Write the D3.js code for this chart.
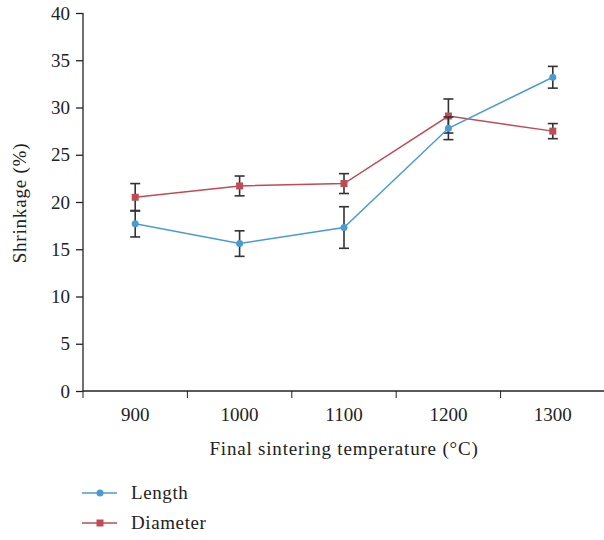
<!DOCTYPE html>
<html>
<head>
<script src="https://d3js.org/d3.v7.min.js"></script>
<style>
  body { margin: 0; background: #fff; }
  text { font-family: "Liberation Serif", "DejaVu Serif", serif; fill: #222; }
</style>
</head>
<body>
<script>
// temperatures and shrinkage values
var temps = ["900", "1000", "1100", "1200", "1300"];
var lengthVals = [17.7, 15.6, 17.3, 27.8, 33.2];
var lengthErr  = [1.4, 1.35, 2.2, 1.2, 1.15];
var diamVals   = [20.5, 21.7, 21.95, 29.1, 27.5];
var diamErr    = [1.45, 1.05, 1.05, 1.8, 0.8];
var yTicks = [0, 5, 10, 15, 20, 25, 30, 35, 40];

var blue = "#4a9bd4", red = "#bf4b55";

var svg = d3.select("body").append("svg")
    .attr("width", 604)
    .attr("height", 540);

var x = d3.scaleBand().domain(temps).range([83, 605]);
var y = d3.scaleLinear().domain([0, 40]).range([391, 13]);

// y axis
var yAxis = svg.append("g")
    .attr("transform", "translate(83,0)")
    .call(d3.axisLeft(y).tickValues(yTicks).tickSize(7).tickPadding(6));
yAxis.select(".domain").attr("d", "M0,13V391");

// x axis, ticks sit on the band edges
var xAxis = svg.append("g")
    .attr("transform", "translate(0,391)")
    .call(d3.axisBottom(x).tickSize(0).tickPadding(17));
xAxis.select(".domain").attr("d", "M83,0H605");
xAxis.selectAll(".edge")
    .data(temps)
    .enter().append("line")
    .attr("x1", function (d) { return x(d); })
    .attr("x2", function (d) { return x(d); })
    .attr("y1", 0).attr("y2", 7)
    .attr("stroke", "#222");

svg.selectAll(".domain, .tick line").attr("stroke", "#222").attr("stroke-width", 1.3);
svg.selectAll(".tick text").style("font-size", "19px").attr("fill", "#222");

// axis titles
svg.append("text")
    .attr("x", 344).attr("y", 455)
    .attr("text-anchor", "middle")
    .style("font-size", "19px")
    .style("letter-spacing", "0.8px")
    .text("Final sintering temperature (°C)");

svg.append("text")
    .attr("transform", "translate(26,203) rotate(-90)")
    .attr("text-anchor", "middle")
    .style("font-size", "19px")
    .style("letter-spacing", "0.8px")
    .text("Shrinkage (%)");

var cx = function (d, i) { return x(temps[i]) + x.bandwidth() / 2; };

function drawSeries(vals, errs, colour, shape) {
  var g = svg.append("g");
  var line = d3.line()
      .x(function (d, i) { return cx(d, i); })
      .y(function (d) { return y(d); });
  g.append("path")
      .datum(vals)
      .attr("d", line)
      .attr("fill", "none")
      .attr("stroke", colour)
      .attr("stroke-width", 1.5);

  // error bars
  vals.forEach(function (v, i) {
    var px = cx(v, i);
    var top = y(v + errs[i]), bot = y(v - errs[i]);
    g.append("line").attr("x1", px).attr("x2", px).attr("y1", top).attr("y2", bot)
        .attr("stroke", "#333").attr("stroke-width", 1.6);
    [top, bot].forEach(function (cy) {
      g.append("line").attr("x1", px - 5).attr("x2", px + 5).attr("y1", cy).attr("y2", cy)
          .attr("stroke", "#333").attr("stroke-width", 1.6);
    });
  });

  if (shape == "circle") {
    g.selectAll("circle").data(vals).enter().append("circle")
        .attr("cx", cx).attr("cy", function (d) { return y(d); })
        .attr("r", 3.5).attr("fill", colour);
  } else {
    g.selectAll("rect").data(vals).enter().append("rect")
        .attr("x", function (d, i) { return cx(d, i) - 3.5; })
        .attr("y", function (d) { return y(d) - 3.5; })
        .attr("width", 7).attr("height", 7).attr("fill", colour);
  }
}

drawSeries(diamVals, diamErr, red, "square");
drawSeries(lengthVals, lengthErr, blue, "circle");

// legend
var legend = [["Length", blue, "circle"], ["Diameter", red, "square"]];
legend.forEach(function (item, i) {
  var ly = 493 + i * 30;
  svg.append("line").attr("x1", 82).attr("x2", 117).attr("y1", ly).attr("y2", ly)
      .attr("stroke", item[1]).attr("stroke-width", 1.5);
  if (item[2] == "circle") {
    svg.append("circle").attr("cx", 100).attr("cy", ly).attr("r", 3.5).attr("fill", item[1]);
  } else {
    svg.append("rect").attr("x", 96.5).attr("y", ly - 3.5).attr("width", 7).attr("height", 7).attr("fill", item[1]);
  }
  svg.append("text").attr("x", 131).attr("y", ly + 6)
      .style("font-size", "19px")
      .style("letter-spacing", "0.6px")
      .text(item[0]);
});
</script>
</body>
</html>
